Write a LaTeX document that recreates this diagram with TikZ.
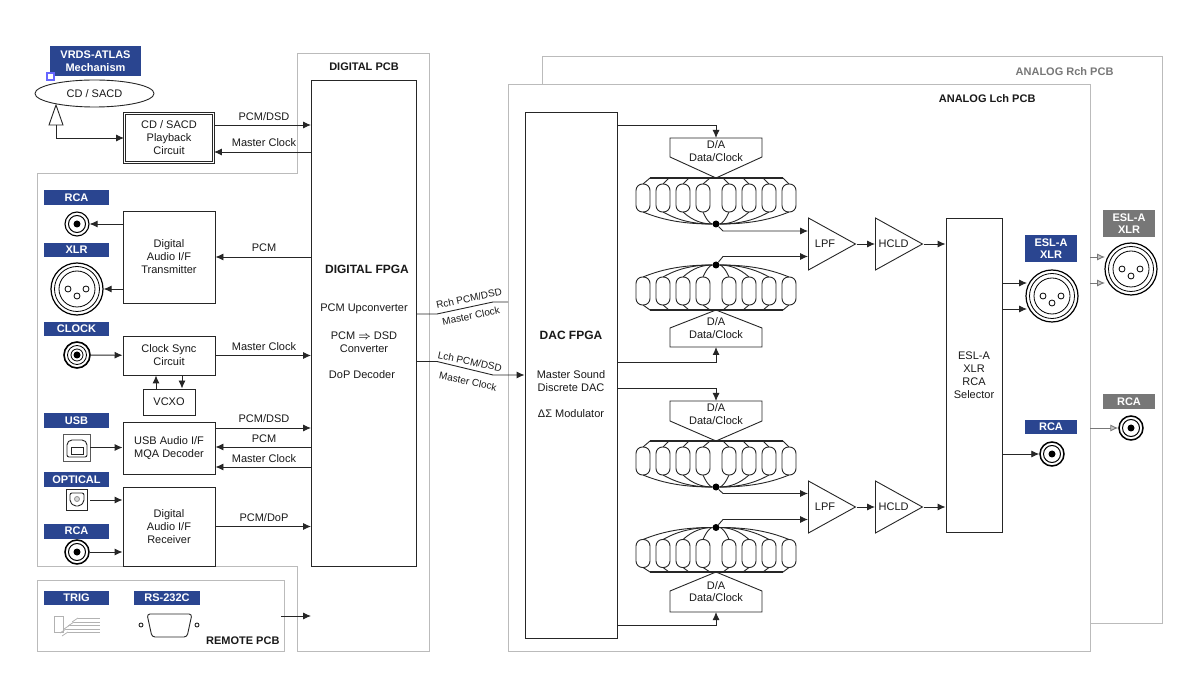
\documentclass[tikz,border=0pt]{standalone}
\usepackage{fontspec}
\setmainfont{Liberation Sans}
\usetikzlibrary{arrows.meta,shapes.geometric}
\definecolor{labelblue}{HTML}{2A4590}
\definecolor{labelgrey}{HTML}{777777}
\definecolor{panelgrey}{HTML}{BBBBBB}
\definecolor{wiredark}{HTML}{262626}
\tikzset{
  every node/.style={font=\fontsize{11}{13}\selectfont, align=center, text=black!90},
  panel/.style={draw=panelgrey, line width=1pt},
  wire/.style={draw=wiredark, line width=0.9pt},
  flow/.style={wire, -{Latex[length=8pt,width=7pt]}},
  greyflow/.style={wire, draw=labelgrey, -{Latex[length=8pt,width=7pt,fill=white!60!labelgrey]}},
  block/.style={wire, rectangle, fill=white, inner sep=0pt},
  blue/.style={fill=labelblue, text=white, font=\fontsize{11}{12.5}\selectfont\bfseries, inner sep=0pt},
  greylabel/.style={blue, fill=labelgrey},
  chip/.style={wire, rectangle, rounded corners=6.5pt, minimum width=14pt, minimum height=28pt, inner sep=0pt},
  amp/.style={wire, isosceles triangle, isosceles triangle stretches, shape border rotate=0, minimum width=52pt, minimum height=47pt, inner sep=0pt, anchor=lower side},
  rcajack/.style={circle, draw=black, line width=1.1pt, fill=white, minimum size=24pt, inner sep=0pt,
    path picture={\begin{scope}[shift={(path picture bounding box.center)}]
      \draw[line width=1pt] (0,0) circle (8.5); \fill[black] (0,0) circle (3.5);
    \end{scope}}},
  bncjack/.style={circle, draw=black, line width=1.6pt, fill=white, minimum size=26pt, inner sep=0pt,
    path picture={\begin{scope}[shift={(path picture bounding box.center)}]
      \draw[line width=0.8pt] (0,0) circle (9.5); \draw[line width=0.8pt] (0,0) circle (6); \fill[black] (0,0) circle (3.5);
    \end{scope}}},
  xlrjack/.style={circle, draw=black, line width=1.2pt, fill=white, minimum size=52pt, inner sep=0pt,
    path picture={\begin{scope}[shift={(path picture bounding box.center)}]
      \draw[line width=0.8pt] (0,0) circle (22.5); \draw[line width=0.8pt] (0,0) circle (18);
      \draw[line width=0.8pt] (-9,0) circle (3); \draw[line width=0.8pt] (9,0) circle (3); \draw[line width=0.8pt] (0,7) circle (3);
    \end{scope}}}
}
\begin{document}
\begin{tikzpicture}[x=1pt,y=-1pt]
  \useasboundingbox (0,0) rectangle (1200,700);
  % pcb outlines
  \draw[panel] (297,54) -- (429,54) -- (429,651) -- (297,651) -- (297,566) -- (37,566) -- (37,174) -- (297,174) -- cycle;
  \draw[panel] (37,580) rectangle (284,651);
  \draw[panel] (542,57) rectangle (1162,623);
  \draw[panel, fill=white] (508,85) rectangle (1090,651);
  \node[font=\fontsize{11}{13}\selectfont\bfseries] (digpcb) at (364,67) {DIGITAL PCB};
  \node[font=\fontsize{11}{13}\selectfont\bfseries, anchor=east, text=labelgrey] (rchpcb) at (1117,72) {ANALOG Rch PCB};
  \node[font=\fontsize{11}{13}\selectfont\bfseries, anchor=east] (lchpcb) at (1039,99) {ANALOG Lch PCB};
  \node[font=\fontsize{11}{13}\selectfont\bfseries, anchor=east] (rempcb) at (283,641) {REMOTE PCB};

  % fpga blocks
  \node[block, minimum width=105pt, minimum height=486pt] (digfpga) at (364,323) {};
  \node[block, minimum width=92pt, minimum height=526pt] (dacfpga) at (571,375) {};
  \node[font=\fontsize{12}{14}\selectfont\bfseries] (digtitle) at (367,269) {DIGITAL FPGA};
  \node (digtxt1) at (364,309) {PCM Upconverter};
  \node (digtxt2) at (364,342) {PCM {\boldmath$\Rightarrow$} DSD\\Converter};
  \node (digtxt3) at (362,375) {DoP Decoder};
  \node[font=\fontsize{12}{14}\selectfont\bfseries] (dactitle) at (571,335) {DAC FPGA};
  \node (dactxt1) at (571,381.5) {Master Sound\\Discrete DAC};
  \node (dactxt2) at (571,414) {ΔΣ Modulator};

  % disc and playback
  \node[blue, minimum width=91pt, minimum height=30pt] (vrds) at (95.5,61) {VRDS-ATLAS\\Mechanism};
  \node[draw=blue!60!white, line width=1.2pt, fill=white, minimum size=7pt, inner sep=0pt] (handle) at (50.5,76.5) {};
  \node[wire, ellipse, fill=white, minimum width=119pt, minimum height=27pt, inner sep=0pt] (disc) at (94.5,93.5) {CD / SACD};
  \node[block, double, double distance=1.6pt, minimum width=89pt, minimum height=49pt] (playback) at (169,138) {CD / SACD\\Playback\\Circuit};
  \draw[wire, fill=white] (56,105) -- (63,125) -- (49,125) -- cycle;
  \coordinate (pickup) at (56,125);
  \draw[flow] (pickup) |- (playback.west);
  \draw[flow] (playback.east |- 0,125) -- (digfpga.west |- 0,125);
  \draw[flow] (digfpga.west |- 0,152) -- (playback.east |- 0,152);
  \node (pbtxt1) at (264,117) {PCM/DSD};
  \node (pbtxt2) at (264,143) {Master Clock};

  % transmitter
  \node[blue, minimum width=65pt, minimum height=15pt] (rcalab1) at (76.5,197.5) {RCA};
  \node[rcajack] (rca1) at (77,224) {};
  \node[blue, minimum width=65pt, minimum height=14pt] (xlrlab1) at (76.5,250) {XLR};
  \node[xlrjack] (xlr1) at (77,289) {};
  \node[block, minimum width=92pt, minimum height=92pt] (trans) at (169,257) {Digital\\Audio I/F\\Transmitter};
  \draw[flow] (trans.west |- rca1) -- (rca1);
  \draw[flow] (trans.west |- xlr1) -- (xlr1);
  \draw[flow] (digfpga.west |- trans) -- (trans);
  \node (transtxt) at (264,248) {PCM};

  % clock
  \node[blue, minimum width=65pt, minimum height=14pt] (clklab) at (76.5,329) {CLOCK};
  \node[bncjack] (bnc) at (77,355) {};
  \node[block, minimum width=92pt, minimum height=39pt] (clksync) at (169,355.5) {Clock Sync\\Circuit};
  \node[block, minimum width=52pt, minimum height=26pt] (vcxo) at (169,402) {VCXO};
  \draw[flow] (bnc) -- (clksync);
  \draw[flow] (clksync) -- (digfpga.west |- clksync);
  \draw[flow] (vcxo.north -| 156,0) -- (clksync.south -| 156,0);
  \draw[flow] (clksync.south -| 182,0) -- (vcxo.north -| 182,0);
  \node (clktxt) at (264,347) {Master Clock};

  % usb
  \node[blue, minimum width=65pt, minimum height=15pt] (usblab) at (76.5,421) {USB};
  \node[wire, draw=black!65, fill=white, minimum size=27pt, inner sep=0pt] (usbin) at (76.5,447.5) {};
  \draw[wire, rounded corners=2pt] (67,443) -- (70,440) -- (84,440) -- (87,443) -- (87,457) -- (67,457) -- cycle;
  \draw[wire] (71,447) rectangle (83,454);
  \node[block, minimum width=92pt, minimum height=52pt] (usbbox) at (169,448) {USB Audio I/F\\MQA Decoder};
  \draw[flow] (usbin) -- (usbbox.west |- usbin);
  \draw[flow] (usbbox.east |- 0,428) -- (digfpga.west |- 0,428);
  \draw[flow] (digfpga.west |- 0,447) -- (usbbox.east |- 0,447);
  \draw[flow] (digfpga.west |- 0,467) -- (usbbox.east |- 0,467);
  \node (usbtxt1) at (264,419) {PCM/DSD};
  \node (usbtxt2) at (264,439) {PCM};
  \node (usbtxt3) at (264,459) {Master Clock};

  % receiver
  \node[blue, minimum width=65pt, minimum height=15pt] (optlab) at (76.5,480) {OPTICAL};
  \node[wire, fill=white, minimum size=21pt, inner sep=0pt] (optin) at (76.5,500) {};
  \draw[wire, rounded corners=2pt] (70,493) -- (84,493) -- (84,502) -- (80,506) -- (74,506) -- (70,502) -- cycle;
  \draw[draw=black!45, fill=black!15, line width=0.8pt] (77,499) circle (2.5);
  \node[blue, minimum width=65pt, minimum height=15pt] (rcalab2) at (76.5,531) {RCA};
  \node[rcajack, line width=1.5pt] (rca2) at (77,552) {};
  \node[block, minimum width=92pt, minimum height=79pt] (recv) at (169,526.5) {Digital\\Audio I/F\\Receiver};
  \draw[flow] (optin.east |- 0,500) ++(3,0) -- (recv.west |- 0,500);
  \draw[flow] (rca2) -- (recv.west |- rca2);
  \draw[flow] (recv) -- (digfpga.west |- recv);
  \node (recvtxt) at (264,518) {PCM/DoP};

  % remote
  \node[blue, minimum width=65pt, minimum height=14pt] (triglab) at (76.5,598) {TRIG};
  \node[blue, minimum width=66pt, minimum height=14pt] (rslab) at (167,598) {RS-232C};
  \draw[black!30, line width=0.7pt] (54,616) rectangle (63,632);
  \foreach \y/\x in {618/78,622/74,625/70,629/66,632/68} {
    \draw[black!30, line width=0.7pt] (\x,\y) -- (100,\y);
    \draw[black!30, line width=0.7pt] (\x,\y) -- (\x-6,\y+4);
  }
  \draw[wire, rounded corners=3pt] (147,614) -- (192,614) -- (187,637) -- (152,637) -- cycle;
  \draw[wire] (141,625) circle (2);
  \draw[wire] (197,625) circle (2);
  \coordinate (remout) at (281,616);
  \draw[flow] (remout) -- (digfpga.west |- remout);

  % links between the fpgas
  \coordinate (rchend) at (508,302);
  \draw[wire] (digfpga.east |- 0,314) -- (437,314) -- (493,302) -- (rchend);
  \draw[flow] (digfpga.east |- 0,361.5) -- (437,361.5) -- (493,375) -- (dacfpga.west |- 0,375);
  \node[rotate=12, font=\fontsize{10}{12}\selectfont] (rchtxt1) at (469,298.5) {Rch PCM/DSD};
  \node[rotate=12, font=\fontsize{10}{12}\selectfont] (rchtxt2) at (471,316) {Master Clock};
  \node[rotate=-12, font=\fontsize{10}{12}\selectfont] (lchtxt1) at (470,361.5) {Lch PCM/DSD};
  \node[rotate=-12, font=\fontsize{10}{12}\selectfont] (lchtxt2) at (468,381.5) {Master Clock};

  % converter groups
  \foreach \u/\c/\s/\tra/\trb/\trc/\da/\db in {a/198/1/138/157/178/145/158, b/291/-1/347/328/310/322/335, c/461/1/401/421/441/408/421, d/553.5/-1/612/591/572/586/598} {
    \coordinate (datop\u) at (716,\tra);
    \draw[wire] (datop\u) -- (762,\tra) -- (762,\trb) -- (716,\trc) -- (670,\trb) -- (670,\tra) -- cycle;
    \node (datxt\u) at (716,\da) {D/A};
    \node (daclk\u) at (716,\db) {Data/Clock};
    \draw[wire, line width=1.5pt] (650,\trc) -- (783,\trc);
    \node[circle, fill=black, minimum size=7pt, inner sep=0pt] (dot\u) at (716,{\c+26*\s}) {};
    \foreach \i/\x/\bx in {1/643/650,2/663/669,3/683/689,4/703/710,5/729/723,6/749/743,7/769/763,8/789/783} {
      \node[chip] (chip\u\i) at (\x,\c) {};
      \draw[wire] (\bx,\trc) -- (\x,{\c-14*\s});
      \draw[wire] ({\x},{\c+14*\s}) .. controls ({\x+(716-\x)*0.3},{\c+23*\s}) and ({\x+(716-\x)*0.6},{\c+26*\s}) .. (dot\u);
    }
  }
  \draw[flow] (dacfpga.east |- 0,125) -| (datopa);
  \draw[flow] (dacfpga.east |- 0,362) -| (datopb);
  \draw[flow] (dacfpga.east |- 0,388) -| (datopc);
  \draw[flow] (dacfpga.east |- 0,625) -| (datopd);

  % filters
  \node[amp] (lpf1) at (808,244) {LPF};
  \node[amp] (hcld1) at (875,244) {HCLD};
  \node[amp] (lpf2) at (808,507) {LPF};
  \node[amp] (hcld2) at (875,507) {HCLD};
  \node[block, minimum width=56pt, minimum height=314pt] (selector) at (974,375) {ESL-A\\XLR\\RCA\\Selector};
  \draw[flow] (dota) -- (723,231) -- (lpf1.lower side |- 0,231);
  \draw[flow] (dotb) -- (723,256.5) -- (lpf1.lower side |- 0,256.5);
  \draw[flow] (dotc) -- (723,493.5) -- (lpf2.lower side |- 0,493.5);
  \draw[flow] (dotd) -- (723,519.5) -- (lpf2.lower side |- 0,519.5);
  \draw[flow] (lpf1.apex) -- (hcld1.lower side);
  \draw[flow] (lpf2.apex) -- (hcld2.lower side);
  \draw[flow] (hcld1.apex) -- (selector.west |- hcld1.apex);
  \draw[flow] (hcld2.apex) -- (selector.west |- hcld2.apex);

  % outputs
  \node[blue, minimum width=52pt, minimum height=27pt] (xlrlab2) at (1051,248.5) {ESL-A\\XLR};
  \node[xlrjack] (xlr2) at (1052,296) {};
  \node[blue, minimum width=52pt, minimum height=14pt] (rcalab3) at (1051,427) {RCA};
  \node[rcajack, line width=1.5pt] (rca3) at (1052,454) {};
  \node[greylabel, minimum width=52pt, minimum height=27pt] (xlrlab3) at (1129,223.5) {ESL-A\\XLR};
  \node[xlrjack] (xlr3) at (1131,269) {};
  \node[greylabel, minimum width=52pt, minimum height=15pt] (rcalab4) at (1129,401.5) {RCA};
  \node[rcajack, line width=1.5pt] (rca4) at (1131,428) {};
  \draw[flow] (selector.east |- 0,283) -- (1027,283);
  \draw[flow] (selector.east |- 0,309) -- (1027,309);
  \draw[flow] (selector.east |- rca3) -- (rca3);
  \coordinate (rchxlra) at (1090,257);
  \coordinate (rchxlrb) at (1090,283);
  \coordinate (rchrca) at (1090,428);
  \draw[greyflow] (rchxlra) -- (1105,257);
  \draw[greyflow] (rchxlrb) -- (1105,283);
  \draw[greyflow] (rchrca) -- (rca4);
\end{tikzpicture}
\end{document}
